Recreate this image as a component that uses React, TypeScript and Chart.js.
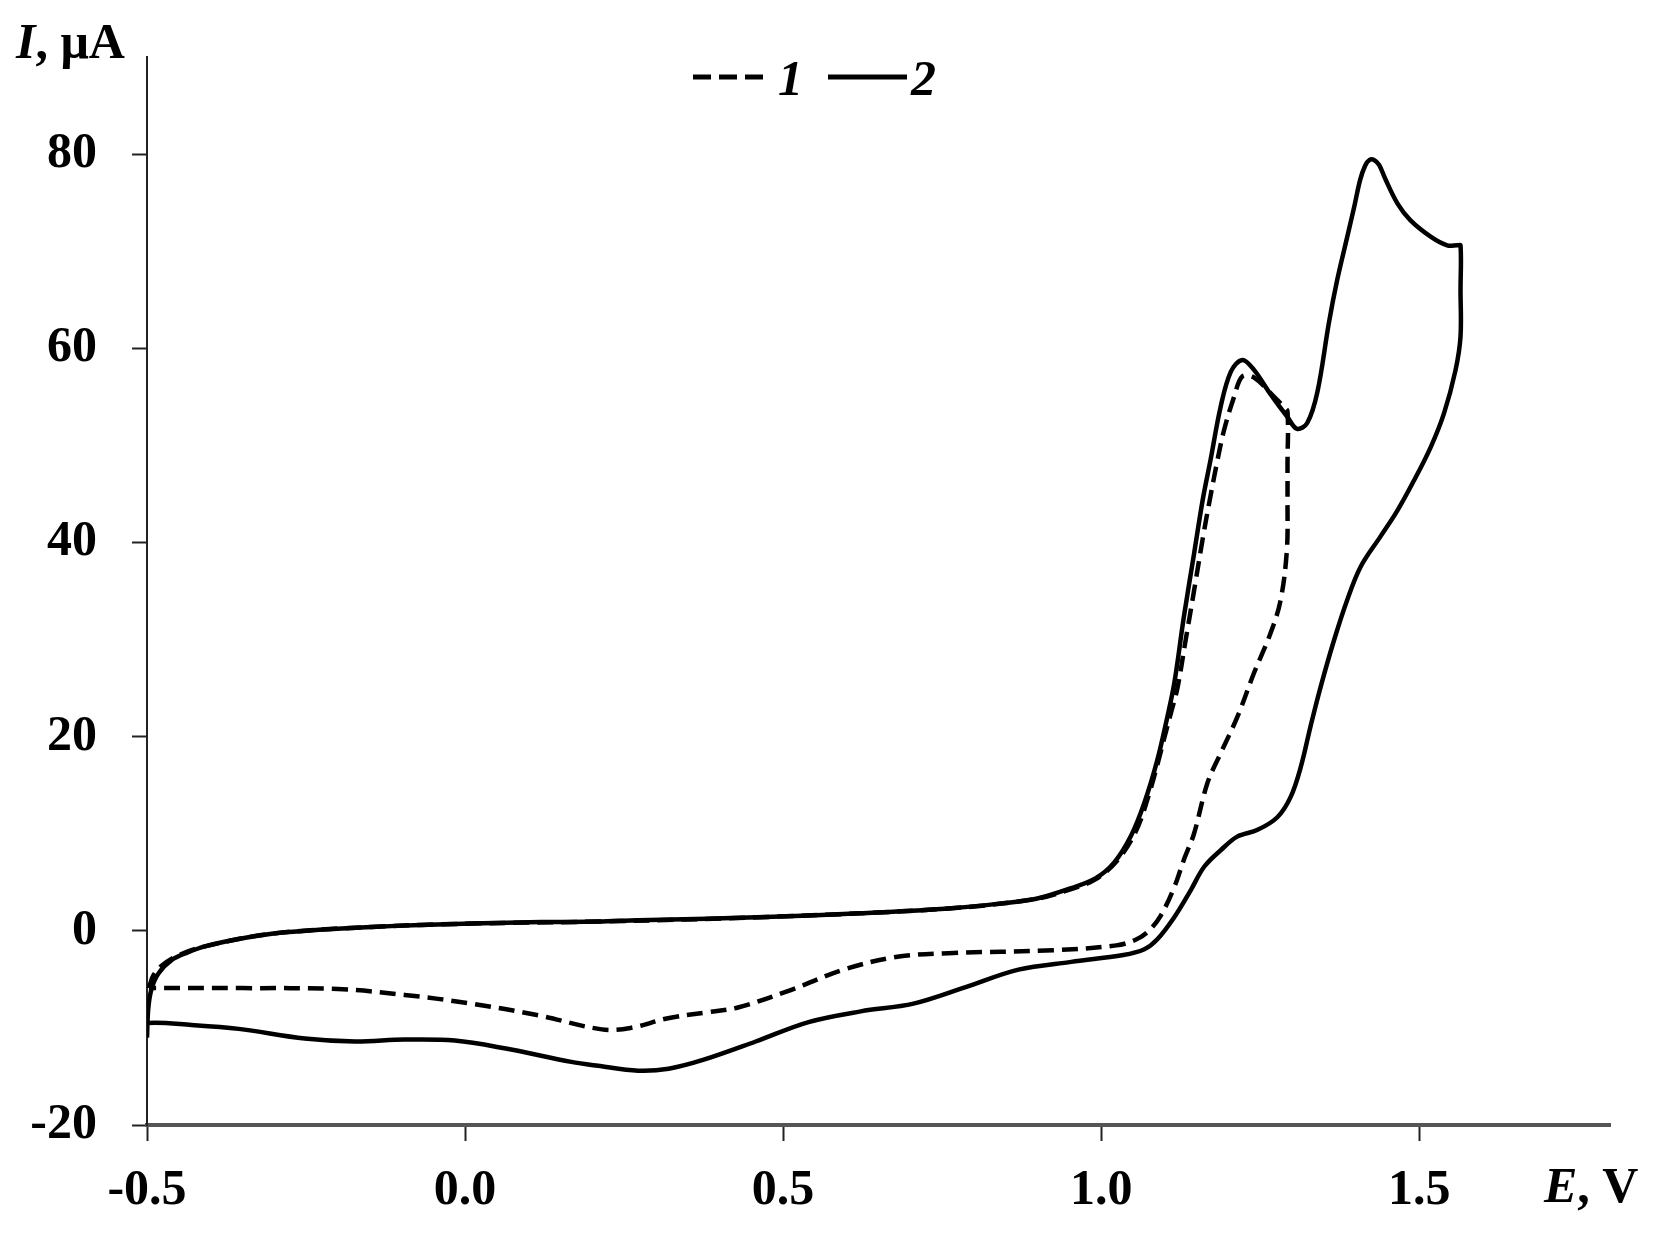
import React, { useEffect, useRef } from "react";
import { Chart, registerables } from "chart.js";
Chart.register(...registerables);

// Curve 2 (solid): potential E, V and current I, µA
const curve2E = [
  -0.5, -0.498, -0.493, -0.482, -0.461, -0.435, -0.409, -0.36, -0.304, -0.23, -0.147, -0.07,
  0.01, 0.12, 0.209, 0.272, 0.38, 0.484, 0.62, 0.76, 0.84, 0.898, 0.953, 0.991, 1.02, 1.047, 1.068, 1.088,
  1.104, 1.115, 1.13, 1.146, 1.16, 1.172, 1.188, 1.204, 1.222, 1.24, 1.266, 1.293, 1.308, 1.324, 1.34,
  1.358, 1.371, 1.387, 1.398, 1.407, 1.415, 1.422, 1.429, 1.437, 1.447, 1.466, 1.486, 1.518, 1.544, 1.56, 1.565,
  1.565, 1.565, 1.557, 1.539, 1.518, 1.492, 1.465, 1.439, 1.408, 1.387, 1.366, 1.345, 1.329, 1.314, 1.298,
  1.277, 1.246, 1.214, 1.188, 1.162, 1.141, 1.115, 1.088, 1.068, 1.035, 0.953, 0.87, 0.787, 0.705, 0.622,
  0.54, 0.457, 0.374, 0.32, 0.272, 0.209, 0.167, 0.062, -0.016, -0.095, -0.173, -0.252, -0.356, -0.43,
  -0.498, -0.5,
];
const curve2I = [
  -11.0, -8.0, -6.0, -4.4, -3.0, -2.2, -1.6, -0.9, -0.3, 0.1, 0.4, 0.6,
  0.75, 0.9, 0.95, 1.1, 1.25, 1.45, 1.8, 2.3, 2.8, 3.3, 4.4, 5.4, 7.0, 9.8, 13.2, 17.5,
  22.0, 25.5, 32.3, 38.8, 44.5, 48.5, 54.0, 57.6, 58.8, 57.8, 55.3, 52.9, 51.7, 52.3, 55.5,
  62.6, 67.0, 71.5, 74.6, 77.3, 78.8, 79.4, 79.4, 78.9, 77.4, 74.9, 73.2, 71.5, 70.6, 70.6, 70.6,
  66.0, 61.2, 57.7, 53.3, 49.8, 46.4, 43.2, 40.6, 37.5, 34.1, 29.9, 25.1, 21.0, 16.9, 13.8,
  11.7, 10.4, 9.7, 8.3, 6.6, 4.2, 1.4, -0.9, -1.9, -2.5, -3.2, -4.0, -5.8, -7.5, -8.3,
  -9.4, -11.4, -13.3, -14.2, -14.4, -13.9, -13.5, -12.1, -11.3, -11.2, -11.4, -11.1, -10.1, -9.7,
  -9.5, -10.0,
];

// Curve 1 (dashed)
const curve1E = [
  -0.497, -0.49, -0.477, -0.45, -0.409, -0.304, -0.147, 0.01, 0.209, 0.484, 0.76, 0.898, 0.953, 0.991,
  1.025, 1.055, 1.075, 1.09, 1.099, 1.11, 1.12, 1.133, 1.146, 1.16, 1.172, 1.183, 1.193, 1.209,
  1.222, 1.24, 1.272, 1.287, 1.293,
  1.293, 1.293, 1.292, 1.282, 1.266, 1.24, 1.214, 1.188, 1.167, 1.146, 1.13, 1.115, 1.094, 1.075,
  1.055, 1.024, 0.925, 0.76, 0.677, 0.595, 0.512, 0.429, 0.379, 0.319, 0.26, 0.215, 0.115, 0.01,
  -0.095, -0.2, -0.35, -0.497,
];
const curve1I = [
  -5.9, -4.6, -3.6, -2.5, -1.6, -0.3, 0.4, 0.75, 0.95, 1.45, 2.3, 3.3, 4.3, 5.3,
  7.2, 10.3, 14.0, 17.5, 19.8, 22.5, 25.0, 30.0, 35.0, 40.5, 44.8, 48.5, 51.5, 55.0,
  57.1, 57.0, 55.0, 54.0, 53.5,
  48.0, 44.4, 39.2, 34.0, 30.6, 26.5, 22.0, 18.3, 15.2, 10.0, 7.3, 4.5, 1.6, 0.0,
  -0.9, -1.5, -2.0, -2.3, -2.7, -4.0, -6.1, -7.9, -8.4, -9.0, -10.0, -10.15, -8.7, -7.5,
  -6.6, -6.0, -5.9, -5.9,
];

const xTicks = [-0.5, 0.0, 0.5, 1.0, 1.5];
const yTicks = [-20, 0, 20, 40, 60, 80];
const seriesLabels = ["1", "2"];

const SERIF = "'Liberation Serif', 'Times New Roman', serif";

const toPoints = (xs: number[], ys: number[]) => xs.map((x, i) => ({ x, y: ys[i] }));

const textPlugin = {
  id: "textPlugin",
  afterDraw(chart: any) {
    const ctx = chart.ctx as CanvasRenderingContext2D;
    ctx.save();
    ctx.fillStyle = "#000";
    ctx.textBaseline = "alphabetic";
    ctx.textAlign = "left";
    // y-axis title
    ctx.font = `italic bold 50px ${SERIF}`;
    let x = 16;
    ctx.fillText("I", x, 58);
    x += ctx.measureText("I").width;
    ctx.font = `bold 50px ${SERIF}`;
    ctx.fillText(", μA", x, 58);
    // x-axis title
    ctx.font = `italic bold 50px ${SERIF}`;
    x = 1544;
    ctx.fillText("E", x, 1202);
    x += ctx.measureText("E").width;
    ctx.font = `bold 50px ${SERIF}`;
    ctx.fillText(", V", x, 1202);
    // legend
    ctx.strokeStyle = "#000";
    ctx.lineWidth = 5;
    ctx.setLineDash([18, 8]);
    ctx.beginPath();
    ctx.moveTo(693, 77);
    ctx.lineTo(767, 77);
    ctx.stroke();
    ctx.setLineDash([]);
    ctx.beginPath();
    ctx.moveTo(828, 77);
    ctx.lineTo(907, 77);
    ctx.stroke();
    ctx.font = `italic bold 50px ${SERIF}`;
    ctx.fillText(seriesLabels[0], 778, 95);
    ctx.fillText(seriesLabels[1], 911, 95);
    ctx.restore();
  },
};

export default function App() {
  const ref = useRef<HTMLCanvasElement | null>(null);
  useEffect(() => {
    if (!ref.current) return;
    const chart = new Chart(ref.current, {
      type: "scatter",
      data: {
        datasets: [
          {
            label: seriesLabels[0],
            data: toPoints(curve1E, curve1I),
            showLine: true,
            borderColor: "#000",
            borderWidth: 4.5,
            borderDash: [16, 8],
            pointRadius: 0,
            tension: 0.35,
            fill: false,
          },
          {
            label: seriesLabels[1],
            data: toPoints(curve2E, curve2I),
            showLine: true,
            borderColor: "#000",
            borderWidth: 4.5,
            pointRadius: 0,
            tension: 0.35,
            fill: false,
          },
        ],
      },
      options: {
        responsive: false,
        animation: false,
        devicePixelRatio: 1,
        layout: { padding: { left: 0, right: 54, top: 57, bottom: 0 } },
        plugins: { legend: { display: false }, tooltip: { enabled: false } },
        scales: {
          x: {
            type: "linear",
            min: -0.5,
            max: 1.8,
            afterBuildTicks: (s: any) => {
              s.ticks = xTicks.map((v) => ({ value: v }));
            },
            afterFit: (s: any) => {
              s.height = 111;
              s.paddingLeft = 0;
              s.paddingRight = 0;
            },
            grid: {
              drawOnChartArea: false,
              drawTicks: true,
              tickLength: 16,
              tickColor: "#222",
              tickWidth: 2,
            },
            border: { display: true, color: "#555", width: 4 },
            ticks: {
              color: "#000",
              padding: 20,
              maxRotation: 0,
              autoSkip: false,
              font: { family: SERIF, size: 50, weight: "bold" },
              callback: (v: any) => Number(v).toFixed(1),
            },
          },
          y: {
            type: "linear",
            min: -20,
            max: 90,
            afterBuildTicks: (s: any) => {
              s.ticks = yTicks.map((v) => ({ value: v }));
            },
            afterFit: (s: any) => {
              s.width = 147;
              s.paddingTop = 0;
              s.paddingBottom = 0;
            },
            grid: {
              drawOnChartArea: false,
              drawTicks: true,
              tickLength: 15,
              tickColor: "#222",
              tickWidth: 2,
            },
            border: { display: true, color: "#222", width: 2 },
            ticks: {
              color: "#000",
              padding: 35,
              autoSkip: false,
              font: { family: SERIF, size: 50, weight: "bold" },
              callback: (v: any) => String(v),
            },
          },
        },
      },
      plugins: [textPlugin],
    } as any);
    return () => chart.destroy();
  }, []);
  return (
    <div style={{ position: "fixed", left: 0, top: 0, width: 1664, height: 1236, background: "#fff" }}>
      <canvas ref={ref} width={1664} height={1236} style={{ display: "block", width: 1664, height: 1236 }} />
    </div>
  );
}
